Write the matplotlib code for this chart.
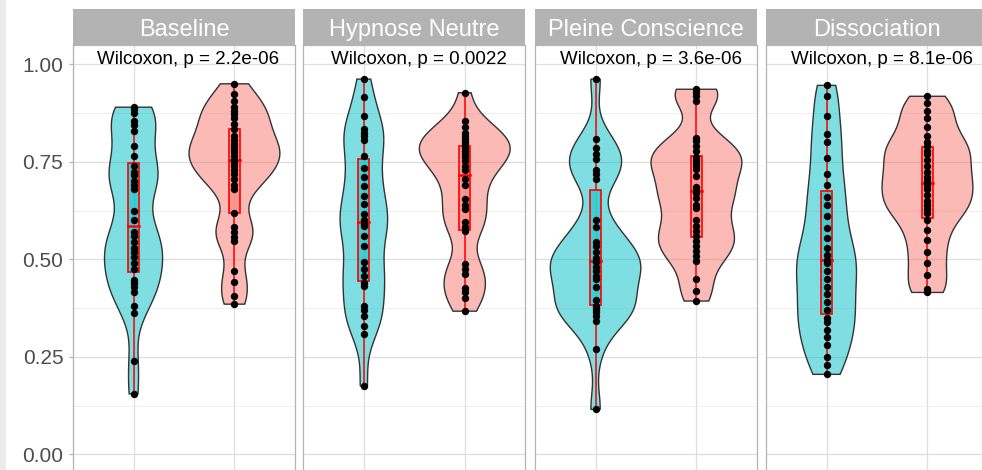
import numpy as np
import matplotlib.pyplot as plt
from matplotlib.patches import Rectangle, Polygon

plt.rcParams['font.family'] = ['Liberation Sans', 'DejaVu Sans']

conditions = ['Baseline', 'Hypnose Neutre', 'Pleine Conscience', 'Dissociation']
p_labels = ['Wilcoxon, p = 2.2e-06', 'Wilcoxon, p = 0.0022',
            'Wilcoxon, p = 3.6e-06', 'Wilcoxon, p = 8.1e-06']

# first group (cyan, x = 1)
baseline_a = [0.890, 0.885, 0.875, 0.855, 0.845, 0.830, 0.790, 0.765, 0.740, 0.725, 0.715,
              0.700, 0.690, 0.680, 0.625, 0.600, 0.570, 0.560, 0.545, 0.530, 0.518, 0.505,
              0.490, 0.475, 0.448, 0.440, 0.428, 0.415, 0.380, 0.362, 0.240, 0.155]
hypnose_a = [0.962, 0.915, 0.868, 0.835, 0.825, 0.815, 0.805, 0.765, 0.735, 0.710, 0.688,
             0.662, 0.641, 0.615, 0.600, 0.590, 0.585, 0.560, 0.534, 0.492, 0.474, 0.457,
             0.440, 0.432, 0.380, 0.370, 0.355, 0.330, 0.308, 0.175]
pleine_a = [0.962, 0.808, 0.785, 0.770, 0.756, 0.730, 0.718, 0.705, 0.600, 0.582, 0.545,
            0.535, 0.520, 0.503, 0.498, 0.492, 0.480, 0.470, 0.458, 0.450, 0.430, 0.395,
            0.380, 0.370, 0.375, 0.365, 0.355, 0.342, 0.269, 0.115]
dissoc_a = [0.946, 0.919, 0.867, 0.821, 0.800, 0.760, 0.720, 0.690, 0.660, 0.640, 0.610,
            0.580, 0.555, 0.530, 0.510, 0.497, 0.490, 0.470, 0.450, 0.430, 0.410, 0.390,
            0.370, 0.350, 0.340, 0.320, 0.300, 0.280, 0.250, 0.230, 0.205]

# second group (pink, x = 2)
baseline_b = [0.950, 0.925, 0.905, 0.890, 0.880, 0.872, 0.862, 0.848, 0.835, 0.815, 0.805,
              0.795, 0.790, 0.782, 0.775, 0.765, 0.755, 0.748, 0.738, 0.728, 0.718, 0.705,
              0.690, 0.680, 0.620, 0.582, 0.569, 0.556, 0.546, 0.470, 0.441, 0.405, 0.385]
hypnose_b = [0.927, 0.855, 0.840, 0.825, 0.815, 0.808, 0.800, 0.792, 0.785, 0.778, 0.770,
             0.762, 0.752, 0.740, 0.728, 0.705, 0.690, 0.655, 0.640, 0.628, 0.595, 0.582,
             0.573, 0.487, 0.474, 0.462, 0.427, 0.415, 0.402, 0.367]
pleine_b = [0.936, 0.928, 0.920, 0.906, 0.812, 0.803, 0.790, 0.778, 0.762, 0.755, 0.748,
            0.739, 0.731, 0.714, 0.685, 0.679, 0.671, 0.658, 0.640, 0.632, 0.600, 0.585,
            0.573, 0.560, 0.547, 0.534, 0.521, 0.509, 0.496, 0.449, 0.419, 0.393]
dissoc_b = [0.918, 0.900, 0.880, 0.862, 0.838, 0.815, 0.800, 0.790, 0.777, 0.769, 0.755,
            0.740, 0.725, 0.712, 0.700, 0.690, 0.680, 0.665, 0.650, 0.640, 0.630, 0.620,
            0.600, 0.575, 0.550, 0.520, 0.490, 0.460, 0.425, 0.415]

group_a = [baseline_a, hypnose_a, pleine_a, dissoc_a]
group_b = [baseline_b, hypnose_b, pleine_b, dissoc_b]
colors = ['#00BFC4', '#F8766D']


def kde(vals, adjust=0.6):
    # gaussian kernel, bw.nrd0 like R (with adjust), trimmed to data range
    v = np.asarray(vals)
    n = len(v)
    iqr = np.percentile(v, 75) - np.percentile(v, 25)
    bw = adjust * 0.9 * min(v.std(ddof=1), iqr / 1.34) * n ** -0.2
    ys = np.linspace(v.min(), v.max(), 512)
    d = np.exp(-0.5 * ((ys[:, None] - v[None, :]) / bw) ** 2).sum(1) / (n * bw * np.sqrt(2 * np.pi))
    return ys, d


W, H = 982, 470
fig = plt.figure(figsize=(W / 100, H / 100), dpi=100)
fig.patches.append(Rectangle((0, 0), 6 / W, 1, transform=fig.transFigure,
                             facecolor='#ebebeb', edgecolor='none', zorder=0))

panel_left = [73, 303.3, 535, 766]
panel_w = 222
panel_top = 44.8
panel_bot = 473.8
strip_top = 9.3

for i in range(4):
    l = panel_left[i]
    ax = fig.add_axes([l / W, (H - panel_bot) / H, panel_w / W, (panel_bot - panel_top) / H])
    ax.set_xlim(0.4, 2.6)
    ax.set_ylim(-0.05, 1.05)
    ax.set_xticks([1, 2])
    ax.set_xticklabels([])
    ax.set_yticks([0, 0.25, 0.5, 0.75, 1.0])
    ax.set_yticks([0.125, 0.375, 0.625, 0.875], minor=True)
    ax.grid(which='major', color='#dedede', lw=0.9)
    ax.grid(which='minor', axis='y', color='#e8e8e8', lw=0.5)
    ax.set_axisbelow(True)
    ax.tick_params(axis='x', length=0)
    ax.tick_params(axis='y', which='minor', length=0)
    if i == 0:
        ax.set_yticklabels(['0.00', '0.25', '0.50', '0.75', '1.00'])
        ax.tick_params(axis='y', which='major', length=3, width=0.9, color='#b3b3b3',
                       labelsize=15, labelcolor='#4d4d4d', pad=4)
    else:
        ax.set_yticklabels([])
        ax.tick_params(axis='y', which='major', length=0)
    for s in ax.spines.values():
        s.set_color('#b3b3b3')
        s.set_linewidth(0.9)

    groups = [group_a[i], group_b[i]]
    dens = [kde(g) for g in groups]
    maxd = max(d.max() for _, d in dens)
    for j, g in enumerate(groups):
        x = j + 1
        ys, d = dens[j]
        half = 0.45 * d / maxd
        verts = np.concatenate([np.column_stack([x - half, ys]),
                                np.column_stack([x + half, ys])[::-1]])
        ax.add_patch(Polygon(verts, closed=True, facecolor=colors[j], alpha=0.5,
                             edgecolor='none', zorder=2))
        ax.add_patch(Polygon(verts, closed=True, facecolor='none',
                             edgecolor='#333333', lw=1.0, zorder=2.1))

        v = np.asarray(g)
        q1, med, q3 = np.percentile(v, [25, 50, 75])
        iqr = q3 - q1
        lo = v[v >= q1 - 1.5 * iqr].min()
        hi = v[v <= q3 + 1.5 * iqr].max()
        bw = 0.11
        ax.plot([x, x], [lo, q1], color='red', lw=1.1, zorder=3)
        ax.plot([x, x], [q3, hi], color='red', lw=1.1, zorder=3)
        ax.add_patch(Rectangle((x - bw / 2, q1), bw, q3 - q1, facecolor=colors[j],
                               alpha=0.5, edgecolor='none', zorder=3))
        ax.add_patch(Rectangle((x - bw / 2, q1), bw, q3 - q1, facecolor='none',
                               edgecolor='red', lw=1.2, zorder=3.1))
        ax.plot([x - bw / 2, x + bw / 2], [med, med], color='red', lw=1.8, zorder=3.1)
        ax.plot([x] * len(v), v, 'o', color='black', ms=5.3, mew=0, zorder=4)

    ax.text(1.545, 1.0, p_labels[i], ha='center', va='baseline', fontsize=13.5,
            color='black', zorder=5)

    sax = fig.add_axes([l / W, (H - panel_top) / H, panel_w / W, (panel_top - strip_top) / H])
    sax.set_facecolor('#b3b3b3')
    sax.set_xticks([])
    sax.set_yticks([])
    for s in sax.spines.values():
        s.set_visible(False)
    sax.text(0.5, 0.26, conditions[i], ha='center', va='baseline', fontsize=17,
             color='white', transform=sax.transAxes)

fig.savefig('out.png', dpi=100)
